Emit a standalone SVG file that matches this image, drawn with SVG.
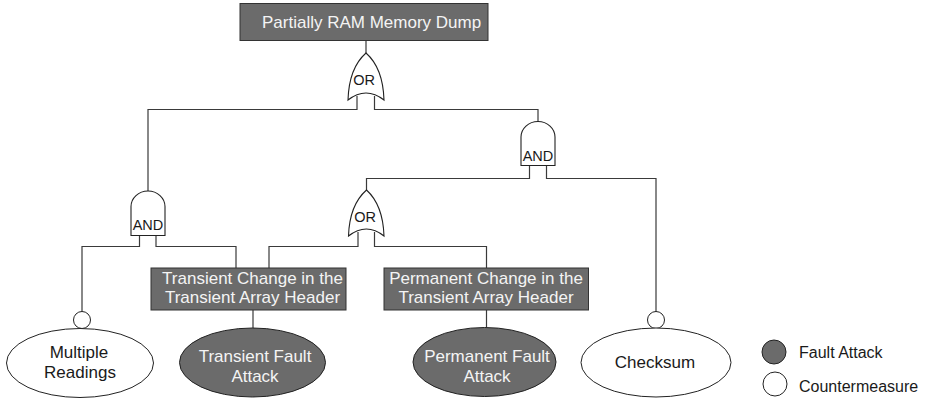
<svg xmlns="http://www.w3.org/2000/svg" width="937" height="398" viewBox="0 0 937 398">
<style>
  .bg{fill:#ffffff}
  .wire{fill:none;stroke:#3a3a3a;stroke-width:1.2}
  .box{fill:#6b6b6b;stroke:#333333;stroke-width:1}
  .gate{fill:#ffffff;stroke:#222222;stroke-width:1.1}
  .fault{fill:#6b6b6b;stroke:#222222;stroke-width:1}
  .cm{fill:#ffffff;stroke:#222222;stroke-width:1}
  .lt{font-family:"Liberation Sans",Arial,sans-serif;font-size:17px;fill:#f4f4f4}
  .dk{font-family:"Liberation Sans",Arial,sans-serif;font-size:17px;fill:#1a1a1a}
  .gl{font-family:"Liberation Sans",Arial,sans-serif;font-size:14.5px;fill:#1a1a1a;text-anchor:middle}
  .lg{font-family:"Liberation Sans",Arial,sans-serif;font-size:16px;fill:#1a1a1a}
  .c{text-anchor:middle}
</style>
<rect class="bg" x="0" y="0" width="937" height="398"/>

<g id="connectors">
  <path class="wire" d="M366,40.5 V53"/>
  <path class="wire" d="M357,96 V109.5 H148 V191"/>
  <path class="wire" d="M374.5,96 V109.5 H538 V122"/>
  <path class="wire" d="M529.5,165.5 V178.5 H366.5 V190"/>
  <path class="wire" d="M546.5,165.5 V178.5 H656 V312"/>
  <path class="wire" d="M358,232 V246.5 H269 V268"/>
  <path class="wire" d="M374.5,232 V246.5 H486.5 V268"/>
  <path class="wire" d="M139.5,235.5 V246.5 H82 V311.5"/>
  <path class="wire" d="M156,235.5 V246.5 H236 V268"/>
  <path class="wire" d="M253,310 V328"/>
  <path class="wire" d="M486.5,310 V327.5"/>
</g>

<g id="top_event">
  <rect class="box" x="240" y="3.5" width="248" height="37"/>
  <text class="lt" x="262" y="28">Partially RAM Memory Dump</text>
</g>

<g id="or_top">
  <path class="gate" d="M366,53 Q349,68 348,100 Q366,86 384,100 Q383,68 366,53 Z"/>
  <text class="gl" x="364" y="85">OR</text>
</g>

<g id="and_right">
  <path class="gate" d="M521,165.5 V137 A17,15.5 0 0 1 555,137 V165.5 Z"/>
  <text class="gl" x="538" y="161">AND</text>
</g>

<g id="or_mid">
  <path class="gate" d="M366.5,190 Q349.5,205 348.5,236 Q366.5,222 384,236 Q383,205 366.5,190 Z"/>
  <text class="gl" x="365" y="221.5">OR</text>
</g>

<g id="and_left">
  <path class="gate" d="M131,235.5 V206.5 A17,15.5 0 0 1 165,206.5 V235.5 Z"/>
  <text class="gl" x="148" y="229.5">AND</text>
</g>

<g id="transient_change">
  <rect class="box" x="151" y="268" width="195" height="42"/>
  <text class="lt c" x="252.5" y="284">Transient Change in the</text>
  <text class="lt c" x="252.5" y="303">Transient Array Header</text>
</g>

<g id="permanent_change">
  <rect class="box" x="384" y="268" width="204.5" height="42"/>
  <text class="lt c" x="486" y="284">Permanent Change in the</text>
  <text class="lt c" x="486" y="303">Transient Array Header</text>
</g>

<g id="multiple_readings">
  <circle class="cm" cx="82" cy="320" r="8.5"/>
  <ellipse class="cm" cx="80" cy="363" rx="73.5" ry="34.5"/>
  <text class="dk c" x="79" y="358">Multiple</text>
  <text class="dk c" x="80" y="378">Readings</text>
</g>

<g id="transient_fault">
  <ellipse class="fault" cx="252.5" cy="362.5" rx="73" ry="34.5"/>
  <text class="lt c" x="255" y="361.5">Transient Fault</text>
  <text class="lt c" x="255" y="381.5">Attack</text>
</g>

<g id="permanent_fault">
  <ellipse class="fault" cx="484.5" cy="362" rx="71.5" ry="34.5"/>
  <text class="lt c" x="487" y="361.5">Permanent Fault</text>
  <text class="lt c" x="487" y="381.5">Attack</text>
</g>

<g id="checksum">
  <circle class="cm" cx="656" cy="320" r="8.5"/>
  <ellipse class="cm" cx="656" cy="362.5" rx="75" ry="34.5"/>
  <text class="dk c" x="655" y="368">Checksum</text>
</g>

<g id="legend">
  <circle class="fault" cx="774" cy="352" r="12"/>
  <text class="lg" x="799" y="357.5">Fault Attack</text>
  <circle class="cm" cx="775" cy="384" r="12"/>
  <text class="lg" x="799" y="391.5">Countermeasure</text>
</g>
</svg>
